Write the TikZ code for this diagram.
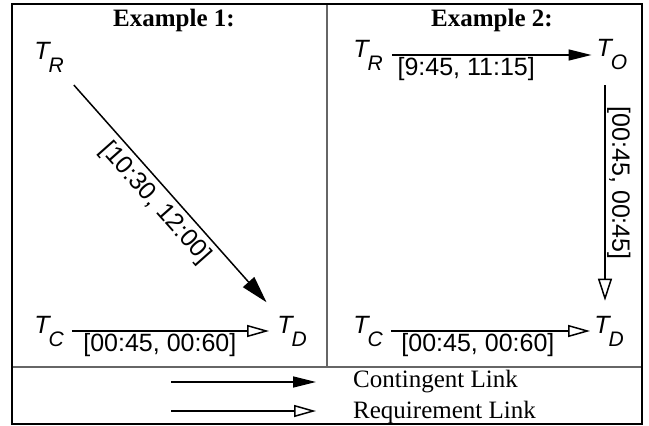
\documentclass[tikz,border=0pt]{standalone}
\usepackage{fontspec}
\setmainfont{Liberation Serif}
\setsansfont{Liberation Sans}
\usetikzlibrary{arrows.meta}
\newcommand{\Tsub}[1]{{\sffamily\itshape T\kern-1pt\raisebox{-13pt}{\fontsize{21}{21}\selectfont #1}}}
\begin{document}
\begin{tikzpicture}[x=1pt,y=-1pt,
 frame/.style={line width=1.6pt},
 divider/.style={line width=1.3pt, draw=black!60},
 vtx/.style={inner sep=0pt, font=\fontsize{25}{30}\selectfont},
 lbl/.style={inner sep=1.5pt, font=\fontsize{25}{30}\selectfont\sffamily},
 title/.style={inner sep=0pt, font=\fontsize{25}{30}\selectfont\bfseries},
 legtext/.style={anchor=west, inner sep=0pt, font=\fontsize{25}{30}\selectfont},
 cont/.style={line width=1.5pt, -{Triangle[length=23pt,width=11pt]}},
 bigcont/.style={line width=1.5pt, -{Triangle[length=27pt,width=15pt]}},
 req/.style={line width=1.5pt, -{Triangle[open,length=22pt,width=12pt,line width=1.5pt]}},
 vreq/.style={line width=1.5pt, -{Triangle[open,length=22pt,width=14pt,line width=1.5pt]}},
]
\useasboundingbox (0,0) rectangle (649,426);
% frame
\draw[divider] (327,4) -- (327,367);
\draw[divider] (12,367) -- (642,367);
\draw[frame] (12,4) rectangle (642,424);
% titles
\node[title] (t1) at (174,20) {Example 1:};
\node[title] (t2) at (492,20) {Example 2:};
% Example 1
\node[vtx] (TR1) at (49,57) {\Tsub{R}};
\node[vtx] (TC1) at (49,331) {\Tsub{C}};
\node[vtx] (TD1) at (292,331) {\Tsub{D}};
\draw[bigcont, shorten <=17pt, shorten >=18pt] (TR1) -- (TD1)
  node[lbl, pos=0.49, sloped, below, inner sep=5pt] {[10:30, 12:00]};
\draw[req, shorten <=8pt, shorten >=8pt] (TC1.east) -- (TD1.west)
  node[lbl, pos=0.45, below] {[00:45, 00:60]};
% Example 2
\node[vtx] (TR2) at (368,55) {\Tsub{R}};
\node[vtx] (TO2) at (612,55) {\Tsub{O}};
\node[vtx] (TC2) at (368,331) {\Tsub{C}};
\node[vtx] (TD2) at (609,331) {\Tsub{D}};
\draw[cont, shorten <=9pt, shorten >=5pt] (TR2.east) -- (TO2.west)
  node[lbl, pos=0.39, below] {[9:45, 11:15]};
\draw[vreq, shorten <=15pt, shorten >=15pt] ([xshift=-7pt]TO2.south) -- ([xshift=-4pt]TD2.north)
  node[lbl, pos=0.46, anchor=south, rotate=-90] {[00:45, 00:45]};
\draw[req, shorten <=8pt, shorten >=4pt] (TC2.east) -- (TD2.west)
  node[lbl, pos=0.45, below] {[00:45, 00:60]};
% legend
\coordinate (c1s) at (171,382);
\coordinate (c1e) at (316,382);
\coordinate (r1s) at (171,411);
\coordinate (r1e) at (316,411);
\draw[cont] (c1s) -- (c1e);
\draw[req] (r1s) -- (r1e);
\node[legtext] (lc) at (353,382) {Contingent Link};
\node[legtext] (lr) at (353,412) {Requirement Link};
\end{tikzpicture}
\end{document}
